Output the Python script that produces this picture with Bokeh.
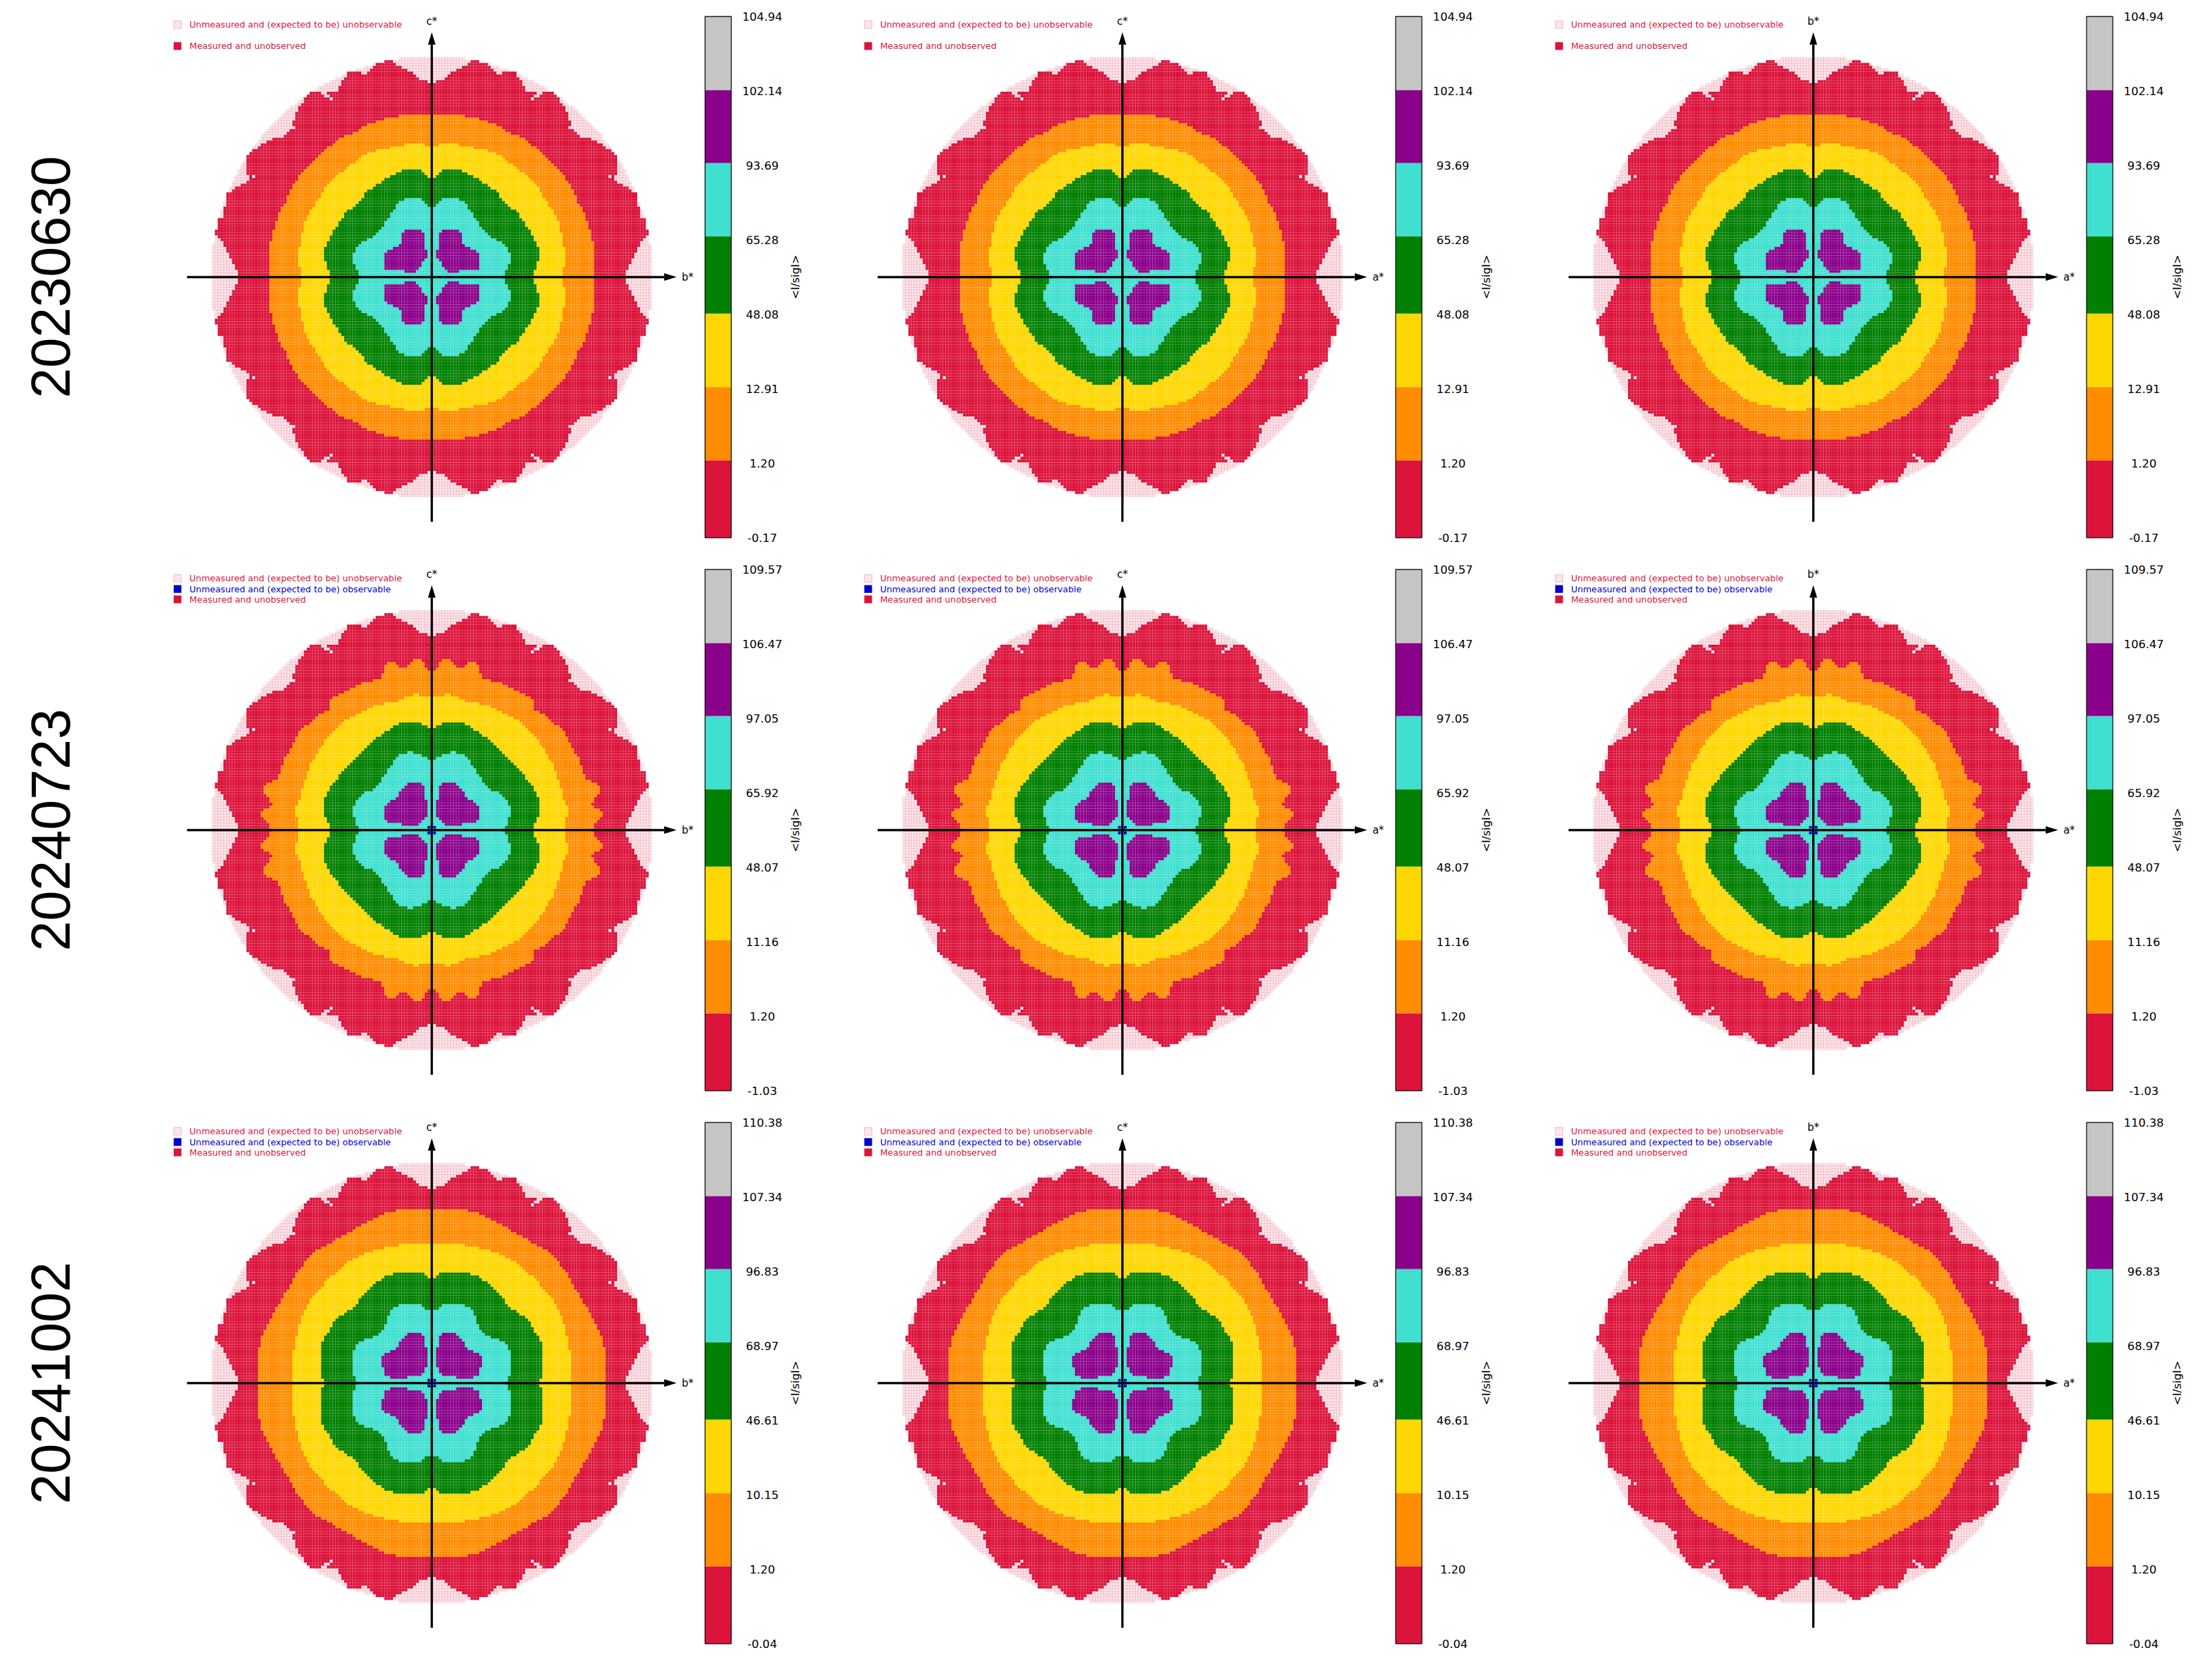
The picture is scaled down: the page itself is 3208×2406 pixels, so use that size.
import numpy as np
from bokeh.core.properties import value
from bokeh.embed import file_html
from bokeh.layouts import column, row
from bokeh.models import ColumnDataSource, Range1d
from bokeh.plotting import figure
from bokeh.resources import INLINE

# ---------- data (cell units of the reciprocal-space map, one quadrant; the map is mirrored) ----------
dates = ["20230630", "20240723", "20241002"]
axis_labels = [("c*", "b*"), ("c*", "a*"), ("b*", "a*")]
band_colors = ["#DC143C", "#FF8C00", "#FFD700", "#008000", "#40E0D0", "#8B008B", "#C5C5C5"]
tick_labels_20230630 = ["-0.17", "1.20", "12.91", "48.08", "65.28", "93.69", "102.14", "104.94"]
tick_labels_20240723 = ["-1.03", "1.20", "11.16", "48.07", "65.92", "97.05", "106.47", "109.57"]
tick_labels_20241002 = ["-0.04", "1.20", "10.15", "46.61", "68.97", "96.83", "107.34", "110.38"]
legend_pink = "Unmeasured and (expected to be) unobservable"
legend_blue = "Unmeasured and (expected to be) observable"
legend_red = "Measured and unobserved"
sphere_radius = 76.8
empty_cells = [(35, 62), (62, 35)]
blue_cells = [(1, 1)]

measured = [(67.6,0),(67.6,1.8),(68.6,3.8),(69.6,5.8),(70.6,7.8),(71.6,9.8),(72.6,11.8),(73.6,13.8),(75.6,14.7),
            (75.6,17.8),(74.6,19.8),(73.6,20.8),(71.6,21.8),(72.6,22.6),(72.6,23.8),(71.6,25.8),(71.6,28.8),(70.6,29.8),
            (67.6,31.8),(64.6,32.8),(62.6,34.7),(64.6,36.6),(64.6,41.8),(61.8,44.6),(58.6,46.7),(53.8,48.8),(51.8,48.8),
            (50.6,50.6),(47.8,51.8),(48.6,53.8),(46.6,58.6),(44.6,61.8),(42.6,63.8),(41.6,64.8),(38.6,64.8),(37.4,63),
            (35.6,62.7),(36.6,64.8),(32.6,64.8),(31.6,67.8),(29.6,70.8),(28.6,71.8),(25.4,71.8),(23.6,70.8),(21.5,71.8),
            (20.6,73.8),(17.6,75.8),(14.6,75.8),(11.6,73.8),(7.6,71.8),(5.6,70.8),(3.6,68.8),(0.6,67.8),(0,67.8)]

orange_2023 = [(56.7,0),(56.7,8.6),(55.6,14.6),(54.6,17.8),(53.6,20.8),(52.6,23.8),(50.6,26.7),(49.6,29.8),(48.6,31.8),
               (46.6,34.7),(43.6,37.8),(40.6,40.8),(38.6,42.8),(35.6,45.8),(31.6,48.8),(26.6,50.8),(23.6,52.8),(17.6,54.8),
               (14.6,55.8),(8.6,56.8),(0,56.8)]
yellow_2023 = [(45.8,0),(45.8,2.6),(46.6,7.8),(45.8,11.8),(44.6,17.8),(43.6,20.8),(42.6,22.8),(40.6,25.8),(38.6,28.8),
               (37.6,30.8),(35.6,33.8),(31.6,36.8),(27.6,39.8),(23.6,42.8),(20.6,43.8),(17.6,44.8),(11.6,45.8),(7.6,46.8),
               (2.6,46.8),(2.6,45.8),(0,45.8)]
green_2023 = [(34.6,0),(36.6,3.8),(37.6,8.6),(36.6,11.8),(35.6,13.8),(34.6,15.8),(31.6,19.8),(30.6,21.8),(28.6,23.8),
              (26.6,24.8),(24.6,26.7),(23.6,28.8),(21.6,30.8),(18.6,32.8),(15.6,34.8),(11.6,36.8),(8.6,37.8),(4.6,37.8),
              (2.6,36.8),(1.6,34.8),(0,34.8)]
turq_2023 = [(24.6,0),(26.6,3.8),(27.6,6.6),(26.6,10.6),(21.6,13.8),(18.6,15.8),(15.6,19.8),(14.6,21.8),(12.6,24.8),
             (10.6,26.7),(7.6,27.8),(4.6,27.8),(2.6,26.7),(1.6,24.8),(0,24.8)]
purple_2023 = [(16.6,8.6),(14.6,9.8),(11.6,10.7),(10.6,12.6),(10.6,14.6),(8.6,16.8),(3.6,16.8),(2.6,15.8),(2.6,9.8),
               (1.6,9.8),(1.6,6.7),(2.6,5.8),(3.6,4.6),(4.6,2.7),(6.6,1.8),(9.5,1.8),(9.5,2.7),(15.6,2.7),(16.6,3.8)]

orange_2024a = [(55.6,0),(56.6,1.6),(57.6,2.8),(59.6,4.8),(59.6,6.4),(56.6,7.6),(55.6,9),(56.6,9.6),(56.6,11.6),(58.6,12.8),
                (58.6,15.6),(56.6,16.4),(53.6,17.6),(52.6,20.8),(51.6,24.4),(49.6,27.2),(48.6,29.6),(46.6,33.6),(44.6,35.6),
                (40.6,38.4),(38.6,40.6),(35.6,41.6),(35.6,44.8),(33.6,46.4),(29.6,48.6),(25.4,50.4),(23.6,51.6),(17.6,52.4),
                (16.6,56.4),(15.6,58.6),(12.6,58.6),(11.6,56.6),(8.6,56),(6.6,59.6),(4.6,59.6),(2.6,57.6),(1.4,55.6),(0,55.6)]
yellow_2024a = [(46.6,0),(46.6,3.6),(47.6,6.4),(46.6,9.6),(45.6,11.2),(44.6,16),(43.6,18.8),(42.6,22.4),(40.6,25.6),
                (39.6,27.6),(37.6,30.4),(35.6,32.8),(30.6,37.6),(27.6,39.6),(23.6,41.6),(20.6,42.8),(18.6,43.6),(11.6,44.8),
                (9.6,46),(6.6,46.4),(5.6,47.6),(4.6,46.8),(0,46.8)]
green_2024a = [(35.6,0),(35.6,2.4),(36.6,3.6),(37.6,5.6),(37.6,9.2),(36.6,12.4),(35.6,14.4),(33.6,17.2),(32.6,18.4),(30.6,21.2),
               (28.6,23.2),(25.4,25.6),(23.6,27.6),(21.6,30.4),(18.6,32.4),(15.6,34.4),(12.6,36.4),(9.6,37.6),(4.6,37.6),
               (2.6,36.4),(0,35.6)]
turq_2024a = [(24.6,0),(26.6,2.4),(27.6,6.4),(26.6,10.4),(24.6,12.4),(21.6,13.6),(18.6,15.6),(15.6,20.4),(13.6,23.6),(10.6,26.4),
              (7.6,27.4),(4.6,26.4),(2.6,25.6),(1.5,24.6),(0,24.6)]
purple_2024a = [(16.6,8.4),(14.6,10.4),(11.6,11.4),(10.6,14.4),(8.6,16.4),(3.6,16.4),(2.6,15.2),(2.6,10.6),(1.6,10.6),(1.6,4.8),
                (2.6,4.4),(4.6,1.6),(10.6,1.6),(10.6,2.6),(15.6,2.6),(16.6,3.6)]

orange_2024b = [(60.6,0),(60.6,9.4),(59.6,15.4),(58.6,17.4),(57.6,19.4),(56.6,21.4),(55.6,23.4),(54.6,25.4),(52.6,28.4),(51.6,30.6),
                (49.6,33.4),(48.6,35.4),(47.6,37.4),(46.6,39.4),(44.6,41.4),(41.6,44.6),(39.6,46.4),(35.6,48.6),(32.6,50.6),
                (28.6,52.6),(23.6,55.4),(19.6,57.4),(17.6,58.6),(15.6,59.5),(9.6,60.6),(0,60.6)]
yellow_2024b = [(47.6,0),(48.6,2.2),(48.6,9.4),(47.6,12.6),(46.6,19.4),(45.6,21.4),(44.6,24.6),(43.6,26.6),(42.6,28.6),(39.6,31.5),
                (37.6,34.6),(34.6,37.5),(31.6,39.4),(28.6,42.6),(24.6,44.6),(21.6,45.4),(19.6,46.6),(12.6,47.5),(9.6,48.6),
                (1.4,48.6),(0,47.5)]
green_2024b = [(36.6,0),(38.6,2.2),(38.6,12.2),(37.6,15.4),(36.6,16.6),(35.6,18.6),(34.6,20.6),(31.6,23.4),(28.6,25.4),(25.6,28.4),
               (23.6,31.4),(21.6,33.4),(18.6,35.4),(15.6,37.4),(12.6,38.4),(2.6,38.4),(1.5,36.6),(0,36.6)]
turq_2024b = [(25.6,0),(27.6,3.4),(27.6,9.8),(26.6,12.6),(24.6,14.6),(21.6,15.5),(18.6,16.6),(16.6,19.4),(15.6,21.8),(14.6,24.6),
              (12.6,26.6),(9.6,27.4),(3.6,27.4),(2.6,25.6),(0,25.6)]
purple_2024b = [(17.6,8.6),(15.6,10.4),(13.6,11.4),(11.6,12.6),(10.6,15.4),(8.6,17.4),(4.6,17.4),(2.6,16.4),(2.6,12.4),(1.6,12.4),
                (1.6,5.4),(2.6,4.6),(3.6,2.6),(12.6,1.6),(16.6,2.6),(16.6,4.6),(17.6,6.6)]

# ---------- layout constants ----------
CELL = 4.167          # px per cell
COL_W = [1170, 1002, 1028]
COL_CX = [625.7, 457.3, 457.3]
ROW_H = [810, 802, 786]
ROW_CY = [401.3, 393.3, 393.3]
AXIS_R = 355 / CELL
HEAD_L, HEAD_W = 18 / CELL, 5.5 / CELL
BAR_L, BAR_R = 396.3 / CELL, 434.3 / CELL
BAR_T, BAR_B = 378.0 / CELL, -378.0 / CELL
# colour-band edges, px above the panel centre, bottom to top
BAND_EDGES_PX = [-378.0, -265.7, -159.4, -53.0, 59.3, 165.3, 271.3, 378.0]
TICK_X = 479.3 / CELL
TITLE_X = 527.3 / CELL
LEG_MX, LEG_TX = -368.7 / CELL, -351.4 / CELL
DATE_X = -553 / CELL
GRID = np.arange(-77, 78)


def inside(poly, X, Y):
    px = np.array([p[0] for p in poly]); py = np.array([p[1] for p in poly])
    qx = np.roll(px, -1); qy = np.roll(py, -1)
    res = np.zeros(X.shape, dtype=bool)
    for ax, ay, bx, by in zip(px, py, qx, qy):
        if ay == by:
            continue
        c = ((ay > Y) != (by > Y)) & (X < (bx - ax) * (Y - ay) / (by - ay) + ax)
        res ^= c
    return res


def close(poly):
    return list(poly) + [(-1, poly[-1][1]), (-1, -1), (poly[0][0], -1)]


def unbias(poly, b):
    return [(x, max(y - b, 0)) for x, y in poly]


def build(orange, yellow, green, turq, purple, bias, blue):
    I, J = np.meshgrid(GRID, GRID)
    I = I.ravel(); J = J.ravel()
    A = np.abs(I).astype(float); B = np.abs(J).astype(float)
    on = I * I + J * J <= sphere_radius ** 2
    for ci, cj in empty_cells:
        on &= ~((A == ci) & (B == cj))
    cls = np.full(I.shape, -1)
    cls[inside(close(unbias(measured, 0.25)), A, B)] = 0
    for k, poly in enumerate([orange, yellow, green, turq], start=1):
        cls[inside(close(unbias(poly, bias)), A, B)] = k
    cls[inside(unbias(purple, bias), A, B)] = 5
    if blue:
        for ci, cj in blue_cells:
            cls[(A == ci) & (B == cj)] = 6
    cols = np.array(band_colors[:6] + ["#0000CD"])
    m = on & (cls >= 0)
    p = on & (cls < 0)
    solid = ColumnDataSource(dict(x=I[m], y=J[m], color=cols[cls[m]]))
    pink = ColumnDataSource(dict(x=I[p], y=J[p]))
    return solid, pink


row_tables = [
    (orange_2023, yellow_2023, green_2023, turq_2023, purple_2023, 0.25, False, tick_labels_20230630),
    (orange_2024a, yellow_2024a, green_2024a, turq_2024a, purple_2024a, 0.0, True, tick_labels_20240723),
    (orange_2024b, yellow_2024b, green_2024b, turq_2024b, purple_2024b, 0.0, True, tick_labels_20241002),
]


def panel(col, r, solid, pink, ticks, three):
    w, h, cx, cy = COL_W[col], ROW_H[r], COL_CX[col], ROW_CY[r]
    p = figure(width=w, height=h, output_backend="svg", toolbar_location=None,
               x_range=Range1d(-cx / CELL, (w - cx) / CELL),
               y_range=Range1d(-(h - cy) / CELL, cy / CELL),
               x_axis_type=None, y_axis_type=None, min_border=0, outline_line_color=None)
    p.grid.visible = False
    p.rect("x", "y", 1, 1, source=pink, fill_color="#DC143C", fill_alpha=0.1,
           line_color="#DC143C", line_alpha=0.16, line_width=0.5)
    p.rect("x", "y", 1, 1, source=solid, fill_color="color", line_color=None)
    # axes
    p.segment([-AXIS_R, 0], [0, -AXIS_R], [AXIS_R - HEAD_L, 0], [0, AXIS_R - HEAD_L], line_color="black", line_width=3.3)
    p.patch([AXIS_R, AXIS_R - HEAD_L, AXIS_R - HEAD_L], [0, HEAD_W, -HEAD_W], fill_color="black", line_color=None)
    p.patch([0, HEAD_W, -HEAD_W], [AXIS_R, AXIS_R - HEAD_L, AXIS_R - HEAD_L], fill_color="black", line_color=None)
    v, hz = axis_labels[col]
    font = value("DejaVu Sans")
    p.text([0], [371 / CELL], text=[v], text_font=font, text_font_size="15px", text_align="center", text_baseline="middle")
    p.text([362.6 / CELL], [0], text=[hz], text_font=font, text_font_size="15px", text_align="left", text_baseline="middle")
    # legend
    ly = [366 / CELL, 335 / CELL] if not three else [365 / CELL, 349.6 / CELL, 334.6 / CELL]
    ltext = [legend_pink, legend_red] if not three else [legend_pink, legend_blue, legend_red]
    lcol = ["#DC143C", "#DC143C"] if not three else ["#DC143C", "#0000CD", "#DC143C"]
    lalpha = [0.1, 1.0] if not three else [0.1, 1.0, 1.0]
    p.scatter([LEG_MX] * len(ly), ly, marker="square", size=11, fill_color=lcol, fill_alpha=lalpha,
              line_color=lcol, line_alpha=0.25, line_width=1)
    p.text([LEG_TX] * len(ly), ly, text=ltext, text_color=lcol, text_font=font, text_font_size="12.7px",
           text_align="left", text_baseline="middle")
    # colour bar
    edges = np.array(BAND_EDGES_PX) / CELL
    p.quad(left=BAR_L, right=BAR_R, bottom=edges[:-1], top=edges[1:], fill_color=band_colors, line_color=None)
    p.quad(left=[BAR_L], right=[BAR_R], bottom=[BAR_B], top=[BAR_T], fill_color=None, line_color="black", line_width=1.2)
    tick_y = np.linspace(BAR_B, BAR_T, len(ticks))
    p.text([TICK_X] * len(ticks), tick_y, text=ticks, text_font=font, text_font_size="16.6px",
           text_align="center", text_baseline="middle")
    p.text([TITLE_X], [0], text=["<I/sigI>"], text_font=font, text_font_size="16px", angle=np.pi / 2,
           text_align="center", text_baseline="middle")
    if col == 0:
        p.text([DATE_X], [0], text=[dates[r]], text_font=value("Liberation Sans"), text_font_size="79px",
               angle=np.pi / 2, text_align="center", text_baseline="middle")
    return p


rows = []
for r, t in enumerate(row_tables):
    solid, pink = build(*t[:6], t[6])
    rows.append(row(*[panel(c, r, solid, pink, t[7], t[6]) for c in range(3)], spacing=0))

layout = column(*rows, spacing=0)
open("out.html", "w").write(file_html(layout, INLINE))
